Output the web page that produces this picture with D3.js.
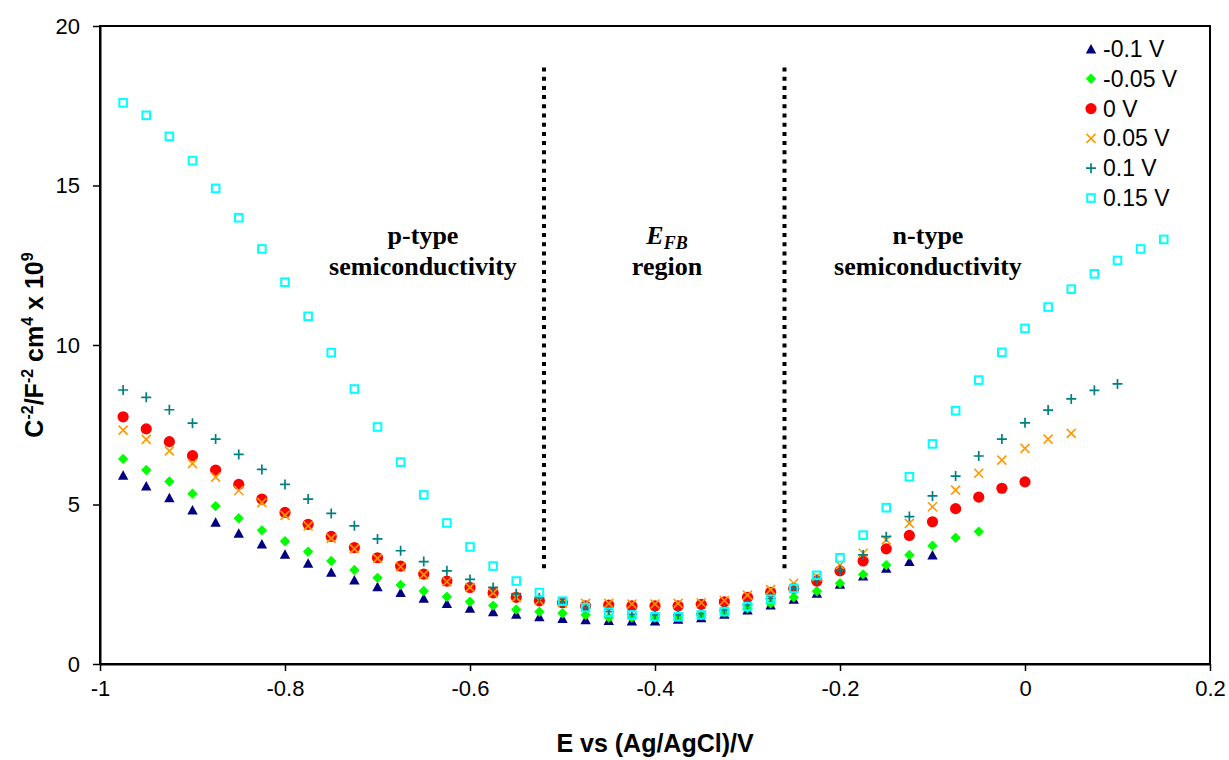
<!DOCTYPE html>
<html>
<head>
<meta charset="utf-8">
<script src="https://cdn.jsdelivr.net/npm/d3@7"></script>
<style>
  html, body { margin: 0; padding: 0; background: #fff; }
  svg { display: block; }
</style>
</head>
<body>
<svg id="chart" width="1229" height="760"></svg>
<script>
// Potential grid: E from -0.975 V in 0.025 V steps
const E_START = -0.975;
const E_STEP = 0.025;

// Mott–Schottky data, C^-2 (x 10^9), one list per formation potential
const seriesNames = ["-0.1 V", "-0.05 V", "0 V", "0.05 V", "0.1 V", "0.15 V"];

const valsM010 = [5.92, 5.58, 5.21, 4.83, 4.44, 4.10, 3.76, 3.44, 3.16, 2.88, 2.63, 2.42,
  2.24, 2.06, 1.90, 1.75, 1.64, 1.56, 1.48, 1.43, 1.39, 1.36, 1.35, 1.35, 1.40, 1.45,
  1.56, 1.69, 1.85, 2.03, 2.22, 2.50, 2.76, 3.00, 3.21, 3.42];

const valsM005 = [6.43, 6.08, 5.72, 5.34, 4.95, 4.57, 4.19, 3.85, 3.52, 3.23, 2.95, 2.70,
  2.48, 2.29, 2.11, 1.95, 1.83, 1.71, 1.64, 1.59, 1.54, 1.46, 1.46, 1.46, 1.48, 1.53,
  1.64, 1.75, 1.90, 2.09, 2.28, 2.53, 2.81, 3.10, 3.42, 3.71, 3.96, 4.15];

const valsP000 = [7.75, 7.37, 6.97, 6.53, 6.08, 5.63, 5.17, 4.75, 4.38, 4.00, 3.65, 3.33,
  3.07, 2.82, 2.60, 2.40, 2.23, 2.09, 1.98, 1.92, 1.82, 1.85, 1.82, 1.82, 1.82, 1.87,
  1.95, 2.09, 2.25, 2.37, 2.60, 2.92, 3.23, 3.61, 4.03, 4.46, 4.87, 5.23, 5.51, 5.71];

const valsP005 = [7.33, 7.04, 6.68, 6.28, 5.86, 5.44, 5.06, 4.66, 4.33, 3.94, 3.61, 3.31,
  3.05, 2.80, 2.58, 2.40, 2.23, 2.09, 1.99, 1.92, 1.90, 1.90, 1.88, 1.88, 1.90, 1.92,
  1.99, 2.16, 2.33, 2.53, 2.74, 3.10, 3.47, 3.89, 4.41, 4.93, 5.45, 5.98, 6.39, 6.76,
  7.05, 7.23];

const valsP010 = [8.59, 8.36, 7.97, 7.55, 7.05, 6.57, 6.10, 5.63, 5.17, 4.72, 4.33, 3.92,
  3.55, 3.21, 2.92, 2.65, 2.40, 2.20, 2.08, 1.95, 1.77, 1.64, 1.56, 1.54, 1.54, 1.58,
  1.69, 1.85, 2.05, 2.37, 2.65, 2.95, 3.42, 3.99, 4.62, 5.27, 5.89, 6.52, 7.05, 7.56,
  7.96, 8.31, 8.58, 8.78];

const valsP015 = [17.59, 17.20, 16.54, 15.78, 14.91, 13.99, 13.01, 11.97, 10.90, 9.76,
  8.62, 7.43, 6.33, 5.30, 4.42, 3.67, 3.07, 2.60, 2.24, 1.97, 1.77, 1.62, 1.54, 1.48,
  1.48, 1.54, 1.64, 1.80, 2.03, 2.37, 2.78, 3.33, 4.04, 4.90, 5.87, 6.90, 7.94, 8.90,
  9.77, 10.52, 11.19, 11.75, 12.23, 12.65, 13.01, 13.31];

// Axis ticks
const xTickValues = [-1, -0.8, -0.6, -0.4, -0.2, 0, 0.2];
const xTickLabels = ["-1", "-0.8", "-0.6", "-0.4", "-0.2", "0", "0.2"];
const yTickValues = [0, 5, 10, 15, 20];
const yTickLabels = ["0", "5", "10", "15", "20"];

// Region boundaries (dotted lines)
const boundaryE = [-0.52, -0.26];
const boundaryC = [3.0, 18.7];

const seriesValues = [valsM010, valsM005, valsP000, valsP005, valsP010, valsP015];
const seriesShapes = ["triangle", "diamond", "circle", "cross", "plus", "square"];
const seriesColors = ["#000080", "#00ff00", "#ff0000", "#ff9900", "#008080", "#00ffff"];

const svg = d3.select("#chart");
const plotL = 100, plotR = 1210, plotT = 26, plotB = 664;

const x = d3.scaleLinear().domain([-1, 0.2]).range([plotL, plotR]);
const y = d3.scaleLinear().domain([0, 20]).range([plotB, plotT]);

// Plot frame
svg.append("rect")
  .attr("x", plotL).attr("y", plotT)
  .attr("width", plotR - plotL).attr("height", plotB - plotT)
  .attr("fill", "none").attr("stroke", "#000").attr("stroke-width", 2);

// Axes
const xAxis = d3.axisBottom(x)
  .tickValues(xTickValues)
  .tickFormat((d, i) => xTickLabels[i])
  .tickSizeOuter(0).tickSizeInner(7).tickPadding(9);
const gx = svg.append("g").attr("transform", `translate(0,${plotB})`).call(xAxis);

const yAxis = d3.axisLeft(y)
  .tickValues(yTickValues)
  .tickFormat((d, i) => yTickLabels[i])
  .tickSizeOuter(0).tickSizeInner(7).tickPadding(13);
const gy = svg.append("g").attr("transform", `translate(${plotL},0)`).call(yAxis);

[gx, gy].forEach(g => {
  g.select(".domain").attr("stroke", "#000").attr("stroke-width", 2);
  g.selectAll(".tick line").attr("stroke", "#000").attr("stroke-width", 1.5);
  g.selectAll(".tick text")
    .attr("fill", "#000")
    .style("font-family", "'Liberation Sans', Arial, sans-serif")
    .style("font-size", "22px");
});

// Axis titles
svg.append("text")
  .attr("x", (plotL + plotR) / 2).attr("y", 752)
  .attr("text-anchor", "middle")
  .style("font-family", "'Liberation Sans', Arial, sans-serif")
  .style("font-size", "25px").style("font-weight", "bold")
  .text("E vs (Ag/AgCl)/V");

const yTitle = svg.append("text")
  .attr("transform", `translate(43,${(plotT + plotB) / 2}) rotate(-90)`)
  .attr("text-anchor", "middle")
  .style("font-family", "'Liberation Sans', Arial, sans-serif")
  .style("font-size", "25px").style("font-weight", "bold");
yTitle.append("tspan").text("C");
yTitle.append("tspan").attr("dy", -10).style("font-size", "16px").text("-2");
yTitle.append("tspan").attr("dy", 10).text("/F");
yTitle.append("tspan").attr("dy", -10).style("font-size", "16px").text("-2");
yTitle.append("tspan").attr("dy", 10).text(" cm");
yTitle.append("tspan").attr("dy", -10).style("font-size", "16px").text("4");
yTitle.append("tspan").attr("dy", 10).text(" x 10");
yTitle.append("tspan").attr("dy", -10).style("font-size", "16px").text("9");

// Dotted region boundaries
boundaryE.forEach(e => {
  svg.append("line")
    .attr("x1", x(e)).attr("x2", x(e))
    .attr("y1", y(boundaryC[0])).attr("y2", y(boundaryC[1]))
    .attr("stroke", "#000").attr("stroke-width", 4)
    .attr("stroke-dasharray", "4,5.2");
});

// Region annotations
const serif = "'Liberation Serif', 'Times New Roman', serif";
function annot(cx, lines) {
  lines.forEach((l, i) => {
    svg.append("text")
      .attr("x", cx).attr("y", 244 + i * 31)
      .attr("text-anchor", "middle")
      .style("font-family", serif).style("font-size", "26px").style("font-weight", "bold")
      .text(l);
  });
}
annot(423, ["p-type", "semiconductivity"]);
annot(928, ["n-type", "semiconductivity"]);

const efb = svg.append("text")
  .attr("x", 667).attr("y", 244)
  .attr("text-anchor", "middle")
  .style("font-family", serif).style("font-size", "26px")
  .style("font-weight", "bold").style("font-style", "italic");
efb.append("tspan").text("E");
efb.append("tspan").attr("dy", 5).style("font-size", "18px").text("FB");
svg.append("text")
  .attr("x", 667).attr("y", 275)
  .attr("text-anchor", "middle")
  .style("font-family", serif).style("font-size", "26px").style("font-weight", "bold")
  .text("region");

// Marker drawing
function drawMarker(g, shape, color, cx, cy) {
  switch (shape) {
    case "triangle":
      g.append("path")
        .attr("d", `M${cx},${cy - 5}L${cx + 5.2},${cy + 4.5}L${cx - 5.2},${cy + 4.5}Z`)
        .attr("fill", color);
      break;
    case "diamond":
      g.append("path")
        .attr("d", `M${cx},${cy - 5.2}L${cx + 5.2},${cy}L${cx},${cy + 5.2}L${cx - 5.2},${cy}Z`)
        .attr("fill", color);
      break;
    case "circle":
      g.append("circle").attr("cx", cx).attr("cy", cy).attr("r", 5.6).attr("fill", color);
      break;
    case "cross":
      g.append("path")
        .attr("d", `M${cx - 4.5},${cy - 4.5}L${cx + 4.5},${cy + 4.5}M${cx - 4.5},${cy + 4.5}L${cx + 4.5},${cy - 4.5}`)
        .attr("stroke", color).attr("stroke-width", 1.6).attr("fill", "none");
      break;
    case "plus":
      g.append("path")
        .attr("d", `M${cx - 5},${cy}L${cx + 5},${cy}M${cx},${cy - 5}L${cx},${cy + 5}`)
        .attr("stroke", color).attr("stroke-width", 1.7).attr("fill", "none");
      break;
    case "square":
      g.append("rect")
        .attr("x", cx - 3.8).attr("y", cy - 3.8).attr("width", 7.6).attr("height", 7.6)
        .attr("stroke", color).attr("stroke-width", 2).attr("fill", "none");
      break;
  }
}

// Data points
seriesValues.forEach((vals, s) => {
  const g = svg.append("g").attr("class", "series");
  vals.forEach((v, i) => {
    const e = E_START + i * E_STEP;
    drawMarker(g, seriesShapes[s], seriesColors[s], x(e), y(v));
  });
});

// Legend
const legend = svg.append("g");
seriesNames.forEach((name, i) => {
  const ly = 49 + i * 29.8;
  drawMarker(legend, seriesShapes[i], seriesColors[i], 1091, ly);
  legend.append("text")
    .attr("x", 1103).attr("y", ly + 8)
    .style("font-family", "'Liberation Sans', Arial, sans-serif")
    .style("font-size", "23px")
    .text(name);
});
</script>
</body>
</html>
